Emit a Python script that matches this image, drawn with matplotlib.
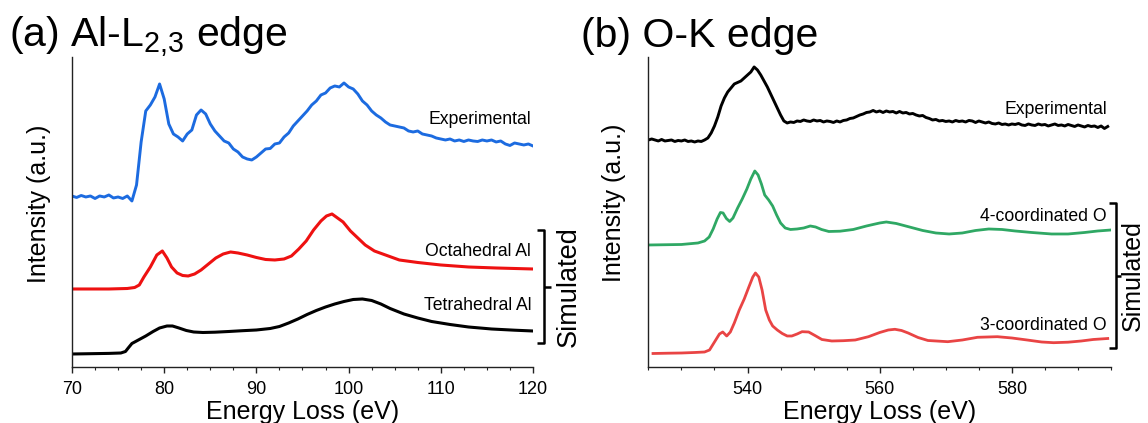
import matplotlib
matplotlib.use('Agg')
import matplotlib.pyplot as plt
from matplotlib.ticker import MultipleLocator

plt.rcParams['font.family'] = ['Liberation Sans', 'DejaVu Sans']
plt.rcParams['mathtext.fontset'] = 'custom'
plt.rcParams['mathtext.rm'] = 'Liberation Sans'
plt.rcParams['mathtext.it'] = 'Liberation Sans'

# ---------- (a) Al-L2,3 edge ----------
al_exp_ev = [70.0 + 0.5 * i for i in range(101)]
al_exp = [171, 169.5, 171.5, 170, 171, 168.5, 171, 170, 172, 169,
          170, 168.5, 171, 166, 182, 225, 256, 262, 270, 283,
          268, 243, 233, 230, 226, 233, 237, 252, 257, 253,
          243, 236, 231, 226, 224, 218, 215, 210, 208, 207,
          210, 214, 218, 218.5, 223, 224, 230, 234, 241, 246,
          251, 256, 262, 266, 272, 274, 279, 281, 280, 284,
          280, 278, 273, 266, 262, 256, 252, 249, 245, 242,
          241, 240, 239, 236, 235, 236, 233, 232, 231, 229,
          228, 227, 228, 226, 227, 225.5, 227, 226, 225.5, 227,
          226, 227, 225, 226, 223, 221.5, 224, 223, 222, 223, 221]

octa_ev = [70, 72, 74, 76, 76.8, 77.3, 77.8, 78.5, 79.2, 79.8, 80.3, 80.8, 81.4,
           82.0, 82.6, 83.3, 84.0, 84.8, 85.6, 86.4, 87.2, 88.0, 89.0, 90.0, 91.0,
           92.0, 93.0, 93.8, 94.6, 95.4, 96.2, 97.0, 97.6, 98.2, 98.8, 99.4, 100.2,
           101.0, 101.8, 102.8, 104.0, 105.5, 107.5, 110, 113, 116, 120]
octa = [78, 78, 78, 78.5, 79.5, 82, 90, 100, 112, 116, 109, 100, 94,
        91.5, 91, 93, 97, 103, 109, 113, 115, 114, 112, 109.5, 107.5,
        107, 108, 111, 118, 126, 137, 146, 151, 153, 149, 145, 136,
        129, 122, 116, 112, 107, 104.5, 102, 100, 99, 98]

tetra_ev = [70, 72, 74, 75.3, 75.8, 76.1, 76.5, 77.2, 78.0, 78.8, 79.5, 80.3, 80.9,
            81.6, 82.4, 83.2, 84.2, 85.5, 87.0, 88.5, 90.0, 91.5, 92.5, 93.5, 94.5,
            95.5, 96.5, 97.5, 98.5, 99.5, 100.5, 101.5, 102.5, 103.5, 104.5, 106,
            107.5, 109, 111, 113, 115.5, 118, 120]
tetra = [13, 13.3, 13.6, 14, 15.5, 19, 23.5, 27, 31, 35.5, 39, 41, 41,
         39, 36.5, 35, 34.5, 34.8, 35.5, 36.3, 37, 38.5, 40.5, 44, 48,
         52.5, 56.5, 60, 63, 65.5, 67.5, 68, 66.5, 63, 58.5, 53,
         49, 45.5, 42.5, 40, 38, 36.8, 36]

# ---------- (b) O-K edge ----------
ok_exp_ev = [525.0 + 0.5 * i for i in range(140)]
ok_exp = [227, 228, 227, 226, 227.5, 226, 226.5, 227, 225.5, 226.5,
          226, 227, 225.5, 226, 225, 226, 225.5, 227, 229, 234,
          241, 250, 261, 269, 275, 279, 283, 284.5, 286, 289,
          292, 295, 300, 297, 292, 286, 280, 273, 266, 259,
          252, 246, 244, 245, 244.5, 246, 245.5, 247, 246, 245.5,
          247, 246, 246.5, 245, 246, 245.5, 244.5, 246, 245, 246.5,
          247, 248.5, 249, 250.5, 252, 253, 254.5, 255, 256.5, 255,
          256, 254.5, 256, 255, 255.5, 254, 255.5, 254, 254.5, 253,
          253.5, 252, 251, 251.5, 249.5, 248.5, 247, 247.5, 246, 246.5,
          245.5, 246, 245, 246.5, 245.5, 246, 245, 246.5, 246, 244.5,
          246, 245, 244, 245, 243.5, 243, 244, 242.5, 243, 242,
          243, 242.5, 243.5, 242, 241.5, 243, 242, 241.5, 243, 242,
          242.5, 241, 242, 243, 241.5, 242, 241, 242.5, 241.5, 240.5,
          242, 241, 240, 241.5, 240.5, 241, 239.5, 241, 238.5, 240.5]

o4_ev = [525, 530, 532.5, 533.5, 534.2, 534.8, 535.4, 535.9, 536.3, 536.8, 537.3,
         537.8, 538.5, 539.2, 539.9, 540.5, 541.1, 541.6, 542.1, 542.6, 543.2,
         543.8, 544.4, 545.0, 545.7, 546.5, 547.5, 548.5, 549.5, 550.3, 551.2,
         552.3, 554, 556, 558, 560, 561, 562.5, 564.5, 566.5, 568.5, 570.5,
         572.5, 574.5, 576.5, 578.5, 580.5, 583, 586, 588.5, 591, 593, 595]
o4 = [122, 122.5, 124, 126, 130, 138, 148, 154.5, 154, 148.5, 145.5,
      149, 159, 168, 178, 188, 196, 192, 183, 172, 167,
      161, 152, 144, 139, 137.5, 138, 139, 141, 140, 137.5,
      135.5, 135.8, 137.5, 141, 144, 145, 143.5, 140, 136.5, 134, 133,
      134, 136.5, 138, 137.5, 136, 134.5, 133, 133, 134.5, 136, 137]

o3_ev = [525.7, 528, 530, 532, 533.5, 534.25, 535.0, 535.75, 536.25, 536.85, 537.4,
         538.0, 538.75, 539.5, 540.2, 540.8, 541.2, 541.7, 542.2, 542.75, 543.3,
         543.8, 544.5, 545.25, 546.0, 546.7, 547.5, 548.25, 549.25, 550.2, 551.25,
         552.75, 554.5, 556.3, 558.3, 560, 561.3, 562.3, 563.3, 564.3, 565.8,
         567.3, 570.3, 572.5, 574.8, 577.8, 580, 582.3, 584.5, 586.3, 588.5,
         590.5, 592.3, 594.5]
o3 = [13.5, 13.8, 14, 14.5, 15, 17, 25, 33, 35, 31, 35,
      44, 57, 68, 80, 90, 94, 90, 77, 57, 47,
      41, 37, 33.5, 31, 31, 33, 35.3, 35, 31.5, 27.5,
      26, 26.3, 27, 30.3, 34.5, 37, 37.7, 36.5, 34, 29.5,
      26.5, 25.3, 27, 29.7, 30.3, 29, 27, 25, 24.3, 24.8,
      26, 27.5, 28.5]

fig = plt.figure(figsize=(11.48, 4.23), dpi=100)
ax1 = fig.add_axes([0.0627, 0.1324, 0.4016, 0.7329])
ax2 = fig.add_axes([0.5648, 0.1324, 0.4030, 0.7329])

ax1.plot(al_exp_ev, al_exp, color='#1c6be0', lw=2.1)
ax1.plot(octa_ev, octa, color='#ee1111', lw=2.2)
ax1.plot(tetra_ev, tetra, color='black', lw=2.2)

ax2.plot(ok_exp_ev, ok_exp, color='black', lw=2.1)
ax2.plot(o4_ev, o4, color='#2fa864', lw=2.0)
ax2.plot(o3_ev, o3, color='#e94444', lw=2.0)


def style_axis(ax, xmin, xmax, major, minor):
    ax.set_xlim(xmin, xmax)
    ax.set_ylim(0, 310)
    for side in ['top', 'right']:
        ax.spines[side].set_visible(False)
    for side in ['left', 'bottom']:
        ax.spines[side].set_color('#222222')
        ax.spines[side].set_linewidth(1.0)
    ax.set_yticks([])
    ax.xaxis.set_major_locator(MultipleLocator(major))
    ax.xaxis.set_minor_locator(MultipleLocator(minor))
    ax.tick_params(axis='x', which='major', direction='out', length=4, width=1,
                   labelsize=13, pad=6, colors='#222222', labelcolor='black')
    ax.tick_params(axis='x', which='minor', direction='out', length=2.5, width=0.8,
                   colors='#222222')
    ax.set_xlabel('Energy Loss (eV)', fontsize=18, va='center')
    ax.set_ylabel('Intensity (a.u.)', fontsize=18, va='center')
    ax.xaxis.set_label_coords(0.5, -0.145)


style_axis(ax1, 70, 120, 10, 2.5)
style_axis(ax2, 525, 595, 20, 5)
ax1.yaxis.set_label_coords(-0.0716, 0.526)
ax2.yaxis.set_label_coords(-0.0744, 0.529)

# curve labels
ax1.text(0.996, 0.797, 'Experimental', transform=ax1.transAxes, ha='right', va='center', fontsize=12.7)
ax1.text(0.996, 0.372, 'Octahedral Al', transform=ax1.transAxes, ha='right', va='center', fontsize=12.7)
ax1.text(0.996, 0.197, 'Tetrahedral Al', transform=ax1.transAxes, ha='right', va='center', fontsize=12.7)

ax2.text(0.991, 0.832, 'Experimental', transform=ax2.transAxes, ha='right', va='center', fontsize=12.7)
ax2.text(0.991, 0.485, '4-coordinated O', transform=ax2.transAxes, ha='right', va='center', fontsize=12.7)
ax2.text(0.991, 0.135, '3-coordinated O', transform=ax2.transAxes, ha='right', va='center', fontsize=12.7)


# "Simulated" brackets
def bracket(ax, x, y0, y1, tip, mid, text_x, size):
    ym = (y0 + y1) / 2
    kw = dict(transform=ax.transAxes, color='black', lw=1.8, clip_on=False,
              solid_capstyle='butt')
    ax.plot([x - tip, x, x, x - tip], [y1, y1, y0, y0], **kw)
    ax.plot([x, x + mid], [ym, ym], **kw)
    ax.text(text_x, ym, 'Simulated', transform=ax.transAxes, rotation=90,
            ha='center', va='center', fontsize=size)


bracket(ax1, 1.024, 0.077, 0.442, 0.016, 0.016, 1.078, 19.5)
bracket(ax2, 1.011, 0.061, 0.529, 0.016, 0.010, 1.048, 18)

# panel titles
fig.text(0.008, 0.889, '(a) Al-L$_{2{,}3}$ edge', fontsize=29.5, va='baseline', ha='left')
fig.text(0.506, 0.889, '(b) O-K edge', fontsize=29.5, va='baseline', ha='left')

fig.savefig('out.png', dpi=100)
